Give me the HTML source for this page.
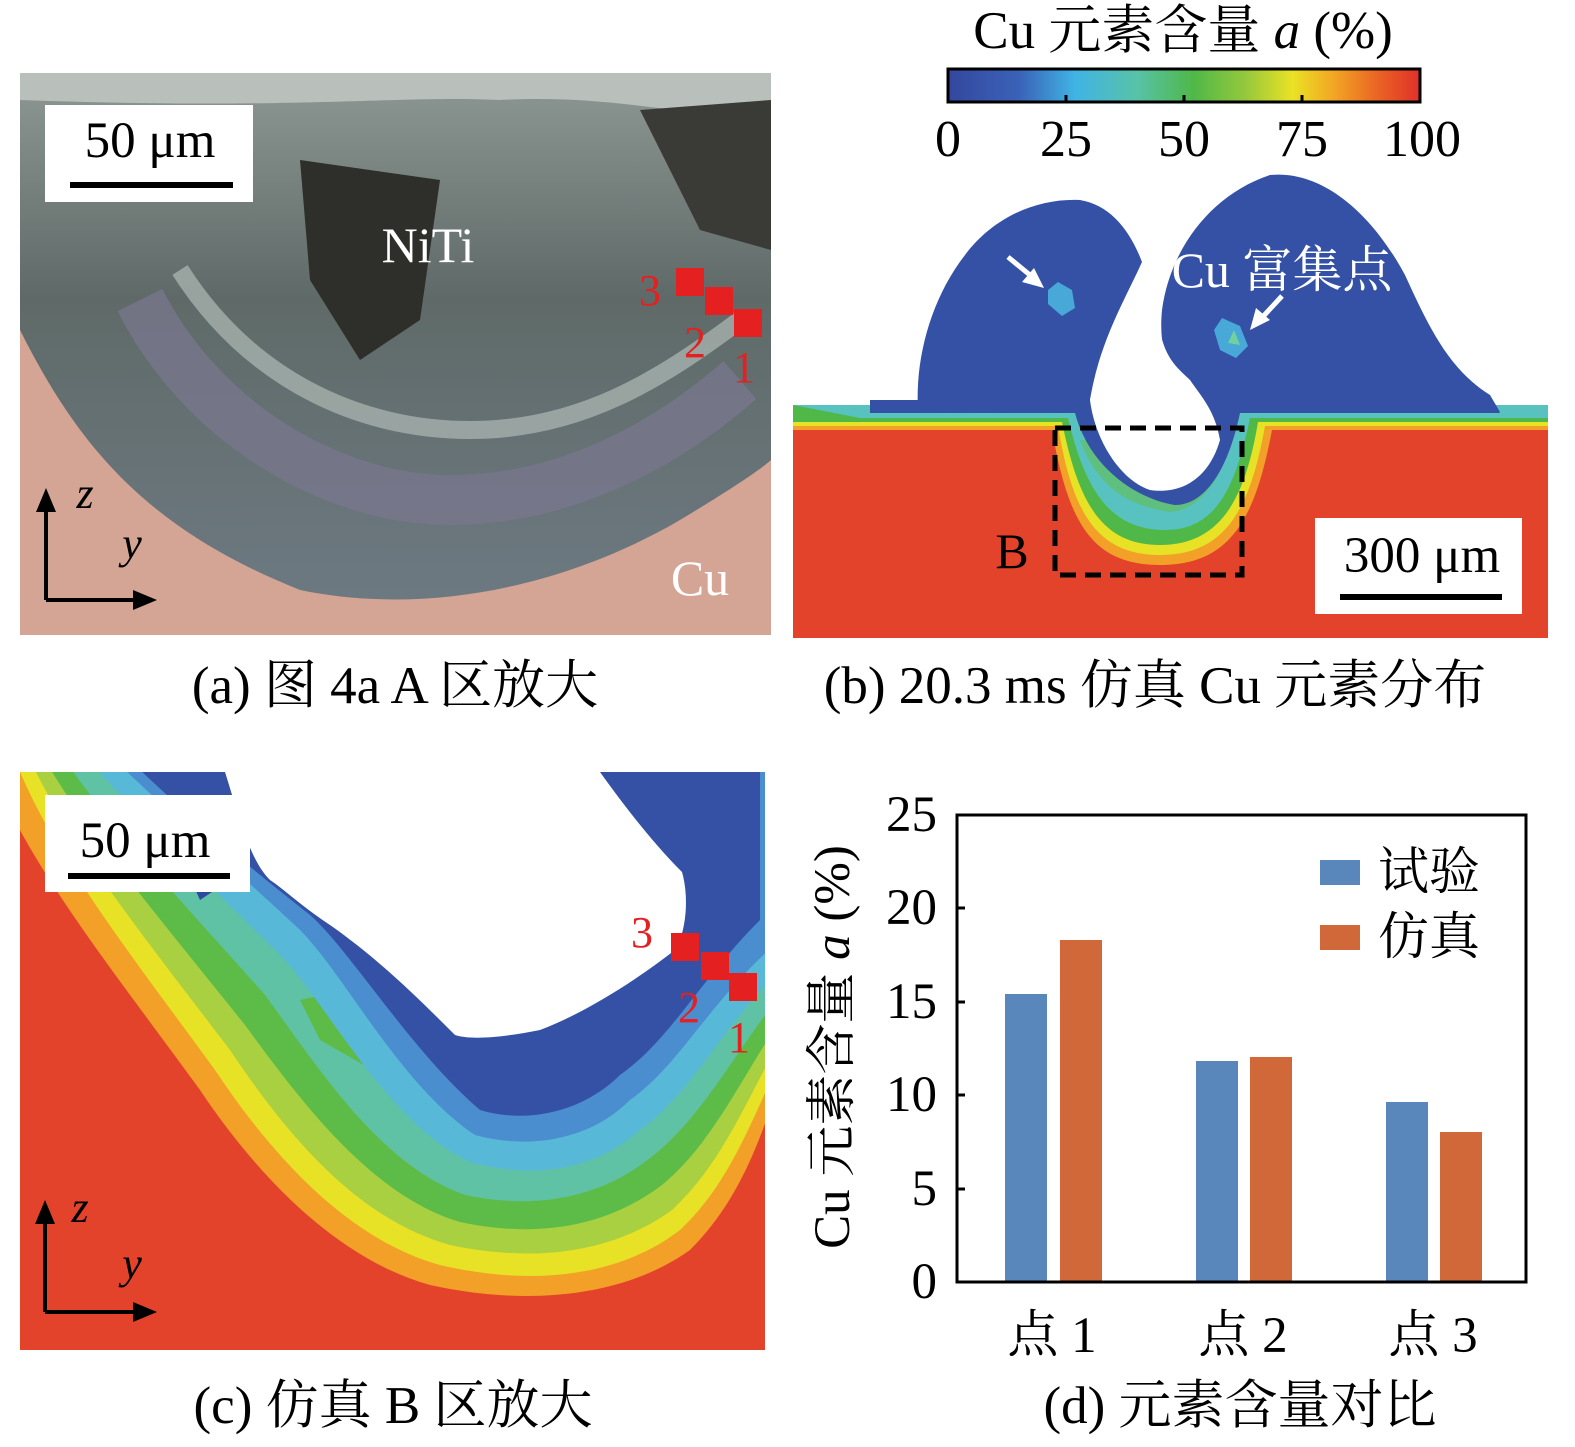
<!DOCTYPE html>
<html><head><meta charset="utf-8">
<style>
html,body{margin:0;padding:0;background:#fff;}
svg{display:block;}
text{font-family:"Liberation Serif","Noto Serif CJK SC",serif;}
</style></head>
<body>
<svg width="1575" height="1447" viewBox="0 0 1575 1447" xmlns="http://www.w3.org/2000/svg">
<defs>
<linearGradient id="jet" x1="0" x2="1" y1="0" y2="0">
<stop offset="0" stop-color="#34479e"/>
<stop offset="0.15" stop-color="#3a62b8"/>
<stop offset="0.27" stop-color="#40b4e4"/>
<stop offset="0.4" stop-color="#58c2a8"/>
<stop offset="0.52" stop-color="#4fb848"/>
<stop offset="0.63" stop-color="#95c83c"/>
<stop offset="0.73" stop-color="#eae224"/>
<stop offset="0.82" stop-color="#f2a424"/>
<stop offset="0.91" stop-color="#ea6424"/>
<stop offset="1" stop-color="#e0302a"/>
</linearGradient>
<linearGradient id="photo" x1="0" x2="0" y1="0" y2="1">
<stop offset="0" stop-color="#8e9894"/>
<stop offset="0.4" stop-color="#5f6a68"/>
<stop offset="1" stop-color="#6e7b84"/>
</linearGradient>
<clipPath id="ca"><rect x="20" y="73" width="751" height="562"/></clipPath>
<clipPath id="cc"><rect x="20" y="772" width="745" height="578"/></clipPath>
</defs>

<!-- Panel a -->
<g clip-path="url(#ca)">
<rect x="20" y="73" width="751" height="562" fill="url(#photo)"/>
<path d="M20,73 L771,73 L771,120 C650,110 600,95 500,100 C400,95 300,110 20,100 Z" fill="#b9bfba"/>
<path d="M20,330 C80,450 150,530 300,590 C420,615 560,590 680,520 C730,490 760,470 771,460 L771,635 L20,635 Z" fill="#d4a594"/>
<path d="M300,160 L440,180 L420,320 L360,360 L310,280 Z" fill="#2e2e2a"/>
<path d="M640,110 L771,100 L771,250 L700,230 Z" fill="#3a3a36"/>
<path d="M140,300 C200,420 330,500 450,500 C560,500 660,450 740,380" fill="none" stroke="#7a7890" stroke-width="50" opacity="0.7"/>
<path d="M180,270 C250,380 360,430 470,430 C580,430 660,380 740,320" fill="none" stroke="#a6b2ae" stroke-width="18" opacity="0.8"/>
</g>
<rect x="45" y="105" width="208" height="97" fill="#fff"/>
<text x="150" y="157" font-size="51" text-anchor="middle">50 μm</text>
<rect x="70" y="182" width="163" height="6" fill="#000"/>
<text x="428" y="262" font-size="50" text-anchor="middle" fill="#fff">NiTi</text>
<text x="700" y="595" font-size="50" text-anchor="middle" fill="#fff">Cu</text>
<rect x="676" y="268" width="28" height="28" fill="#e42020"/>
<rect x="705" y="287" width="28" height="28" fill="#e42020"/>
<rect x="734" y="309" width="28" height="28" fill="#e42020"/>
<text x="650" y="305" font-size="44" text-anchor="middle" fill="#e42020">3</text>
<text x="695" y="357" font-size="44" text-anchor="middle" fill="#e42020">2</text>
<text x="744" y="382" font-size="44" text-anchor="middle" fill="#e42020">1</text>
<g stroke="#000" stroke-width="4" fill="none"><path d="M46,600 L46,505 M46,600 L135,600"/></g>
<path d="M46,488 L36,512 L56,512 Z M157,600 L133,590 L133,610 Z" fill="#000"/>
<text x="85" y="508" font-size="44" font-style="italic" text-anchor="middle">z</text>
<text x="132" y="558" font-size="44" font-style="italic" text-anchor="middle">y</text>
<text x="395" y="703" font-size="53" text-anchor="middle">(a) 图 4a A 区放大</text>

<!-- Panel b -->
<text x="1183" y="48" font-size="53" text-anchor="middle">Cu 元素含量 <tspan font-style="italic">a</tspan> (%)</text>
<rect x="948" y="69" width="472" height="33" fill="url(#jet)" stroke="#000" stroke-width="3"/>
<g stroke="#000" stroke-width="3"><path d="M1066,102 v-7 M1184,102 v-7 M1302,102 v-7"/></g>
<g font-size="52" text-anchor="middle"><text x="948" y="156">0</text><text x="1066" y="156">25</text><text x="1184" y="156">50</text><text x="1302" y="156">75</text><text x="1422" y="156">100</text></g>
<rect x="793" y="420" width="755" height="218" fill="#e2432a"/>
<path d="M793,405 L793,430 L1052,430 C1068,520 1090,565 1160,565 C1230,565 1255,520 1272,430 L1548,430 L1548,405 Z" fill="#f2a028"/>
<path d="M793,405 L793,426 L1058,426 C1072,510 1095,555 1160,555 C1225,555 1250,510 1265,426 L1548,426 L1548,405 Z" fill="#e8e226"/>
<path d="M793,405 L793,422 L1062,422 C1078,500 1100,545 1160,545 C1220,545 1245,500 1258,422 L1548,422 L1548,405 Z" fill="#4fb848"/>
<path d="M793,405 L860,418 L1068,418 C1085,490 1110,530 1165,530 C1215,530 1235,490 1250,418 L1500,418 L1548,418 L1548,405 Z" fill="#58c2c0"/>
<path d="M1080,440 C1095,480 1120,505 1170,512 C1200,510 1220,480 1232,440 Z" fill="#5fbf7e"/>
<path d="M870,413 L1075,413 C1090,470 1140,500 1175,505 C1205,505 1228,470 1240,413 L1500,413 L1490,400 L870,400 Z" fill="#3451a6"/>
<path d="M918,410 C915,360 930,300 965,255 C995,215 1040,198 1080,200 C1110,205 1130,230 1142,262 C1125,300 1100,340 1090,400 L1090,412 Z" fill="#3451a6"/>
<path d="M1190,412 C1170,380 1158,350 1162,310 C1170,250 1210,195 1270,175 C1320,170 1370,210 1405,275 C1430,330 1450,370 1490,395 L1500,412 Z" fill="#3451a6"/>
<path d="M1090,400 C1095,440 1120,480 1150,490 C1185,495 1210,475 1220,440 C1215,410 1200,395 1190,380 C1180,370 1165,360 1160,330 L1145,270 C1120,310 1100,350 1090,400 Z" fill="#fff"/>
<path d="M1058,282 L1072,290 L1075,308 L1062,316 L1048,304 L1048,290 Z" fill="#48a8d8"/>
<path d="M1222,318 L1240,326 L1248,346 L1236,358 L1220,350 L1214,330 Z" fill="#48a8d8"/>
<path d="M1234,330 L1240,345 L1228,343 Z" fill="#6fd0a0"/>
<g stroke="#fff" stroke-width="5"><path d="M1008,257 L1036,280"/><path d="M1282,296 L1258,322"/></g>
<path d="M1044,288 L1022,282 L1034,268 Z M1250,330 L1256,308 L1270,320 Z" fill="#fff"/>
<text x="1282" y="287" font-size="50" text-anchor="middle" fill="#fff">Cu 富集点</text>
<rect x="1055" y="428" width="187" height="147" fill="none" stroke="#000" stroke-width="5" stroke-dasharray="16,9"/>
<text x="1012" y="568" font-size="50" text-anchor="middle">B</text>
<rect x="1315" y="518" width="207" height="96" fill="#fff"/>
<text x="1422" y="572" font-size="51" text-anchor="middle">300 μm</text>
<rect x="1340" y="594" width="162" height="6" fill="#000"/>
<text x="1155" y="703" font-size="53" text-anchor="middle">(b) 20.3 ms 仿真 Cu 元素分布</text>

<!-- Panel c -->
<g clip-path="url(#cc)">
<rect x="20" y="772" width="745" height="578" fill="#e2432a"/>
<g>
<path d="M0,760 L0,790 C40,880 120,980 200,1090 C260,1180 340,1260 430,1285 C520,1305 620,1300 690,1250 C740,1200 760,1140 780,1080 L780,760 Z" fill="#f2a028"/>
<path d="M0,760 L15,760 C55,860 135,960 215,1070 C275,1160 350,1240 440,1265 C525,1285 615,1280 680,1230 C728,1185 750,1125 780,1060 L780,760 Z" fill="#e8e226"/>
<path d="M0,760 L30,760 C70,845 150,945 230,1050 C290,1140 360,1220 450,1245 C530,1262 610,1255 672,1210 C720,1165 742,1110 780,1040 L780,760 Z" fill="#a8d040"/>
<path d="M0,760 L45,760 C85,830 165,925 245,1025 C300,1100 370,1195 460,1222 C535,1238 605,1228 662,1185 C710,1145 735,1090 780,1020 L780,760 Z" fill="#5dbb48"/>
<path d="M0,760 L65,760 C105,820 185,905 265,995 C320,1070 380,1165 465,1195 C535,1210 600,1198 650,1158 C700,1120 730,1060 780,995 L780,760 Z" fill="#5fc2a4"/>
<path d="M300,1000 L345,990 L390,1080 L320,1040 Z" fill="#5dbb48"/>
<path d="M0,760 L90,760 C130,810 205,880 285,960 C330,1010 390,1125 470,1162 C535,1180 595,1170 640,1130 C690,1095 720,1030 780,970 L780,760 Z" fill="#58b8d8"/>
<path d="M0,760 L115,760 C155,800 225,860 300,930 C345,975 400,1085 475,1135 C530,1150 590,1140 630,1100 C680,1065 710,1000 780,940 L780,760 Z" fill="#4a8ed0"/>
<path d="M130,760 C170,800 240,860 310,915 C350,950 410,1050 480,1110 C530,1125 585,1110 620,1075 C670,1040 700,980 760,920 L760,760 Z" fill="#3451a6"/>
</g>
<path d="M225,772 L600,772 C620,800 650,840 682,872 C690,900 685,935 675,950 C630,985 580,1015 540,1030 C500,1038 470,1040 455,1035 C420,1000 380,960 330,925 C300,905 285,890 270,880 C250,860 240,820 225,772 Z" fill="#fff"/>
<path d="M210,810 L230,880 L200,900 L175,845 Z" fill="#2d4a9e"/>
</g>
<rect x="45" y="795" width="205" height="97" fill="#fff"/>
<text x="145" y="857" font-size="51" text-anchor="middle">50 μm</text>
<rect x="68" y="873" width="162" height="6" fill="#000"/>
<rect x="671" y="933" width="28" height="28" fill="#e42020"/>
<rect x="701" y="952" width="28" height="28" fill="#e42020"/>
<rect x="729" y="973" width="28" height="28" fill="#e42020"/>
<text x="642" y="947" font-size="44" text-anchor="middle" fill="#e42020">3</text>
<text x="689" y="1022" font-size="44" text-anchor="middle" fill="#e42020">2</text>
<text x="739" y="1052" font-size="44" text-anchor="middle" fill="#e42020">1</text>
<g stroke="#000" stroke-width="4" fill="none"><path d="M45,1312 L45,1218 M45,1312 L135,1312"/></g>
<path d="M45,1200 L35,1224 L55,1224 Z M157,1312 L133,1302 L133,1322 Z" fill="#000"/>
<text x="80" y="1222" font-size="44" font-style="italic" text-anchor="middle">z</text>
<text x="132" y="1278" font-size="44" font-style="italic" text-anchor="middle">y</text>
<text x="393" y="1423" font-size="53" text-anchor="middle">(c) 仿真 B 区放大</text>

<!-- Panel d -->
<rect x="1005" y="994" width="42" height="288" fill="#5a87bb"/>
<rect x="1060" y="940" width="42" height="342" fill="#d0683a"/>
<rect x="1196" y="1061" width="42" height="221" fill="#5a87bb"/>
<rect x="1250" y="1057" width="42" height="225" fill="#d0683a"/>
<rect x="1386" y="1102" width="42" height="180" fill="#5a87bb"/>
<rect x="1440" y="1132" width="42" height="150" fill="#d0683a"/>
<rect x="957" y="815" width="569" height="467" fill="none" stroke="#000" stroke-width="3"/>
<g stroke="#000" stroke-width="3"><path d="M957,908 h8 M957,1002 h8 M957,1095 h8 M957,1189 h8"/></g>
<g font-size="51" text-anchor="end"><text x="937" y="1298">0</text><text x="937" y="1205">5</text><text x="937" y="1111">10</text><text x="937" y="1018">15</text><text x="937" y="924">20</text><text x="937" y="831">25</text></g>
<g font-size="51" text-anchor="middle"><text x="1052" y="1352">点 1</text><text x="1243" y="1352">点 2</text><text x="1433" y="1352">点 3</text></g>
<text transform="translate(849,1047) rotate(-90)" font-size="51" text-anchor="middle">Cu 元素含量 <tspan font-style="italic">a</tspan> (%)</text>
<rect x="1320" y="860" width="40" height="25" fill="#5a87bb"/>
<rect x="1320" y="925" width="40" height="25" fill="#d0683a"/>
<text x="1378" y="889" font-size="51">试验</text>
<text x="1378" y="954" font-size="51">仿真</text>
<text x="1240" y="1423" font-size="53" text-anchor="middle">(d) 元素含量对比</text>
</svg>
</body></html>
